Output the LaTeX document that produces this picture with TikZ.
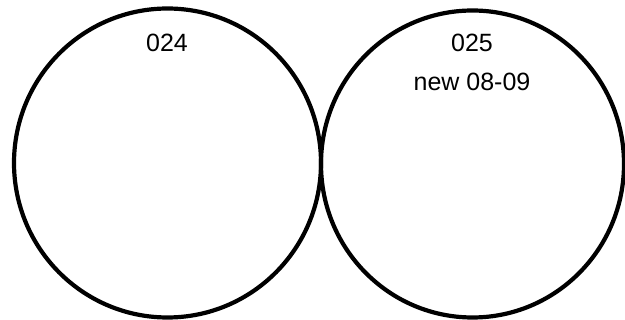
\documentclass[tikz,border=0pt]{standalone}
\usepackage{fontspec}
\setmainfont{Liberation Sans}
\usepackage{tikz}
\usetikzlibrary{positioning}
\definecolor{ink}{HTML}{000000}
\tikzset{
  aro/.style={draw=ink,line width=4.2pt},
  rotulo/.style={font=\fontsize{25}{30}\selectfont,color=ink,anchor=base,inner sep=0pt},
}
\begin{document}
\begin{tikzpicture}[x=1pt,y=-1pt]
  \useasboundingbox (0,0) rectangle (625,320);
  % círculos
  \draw[aro] (167.5,163) ellipse[x radius=153.5,y radius=154.5];
  \draw[aro] (472.5,164) ellipse[x radius=151.5,y radius=153.5];
  % rótulos
  \node[rotulo] (izq) at (167,52) {024};
  \node[rotulo] (der) at (472,52) {025};
  \node[rotulo] (nuevo) at (472,91) {new 08-09};
\end{tikzpicture}
\end{document}
